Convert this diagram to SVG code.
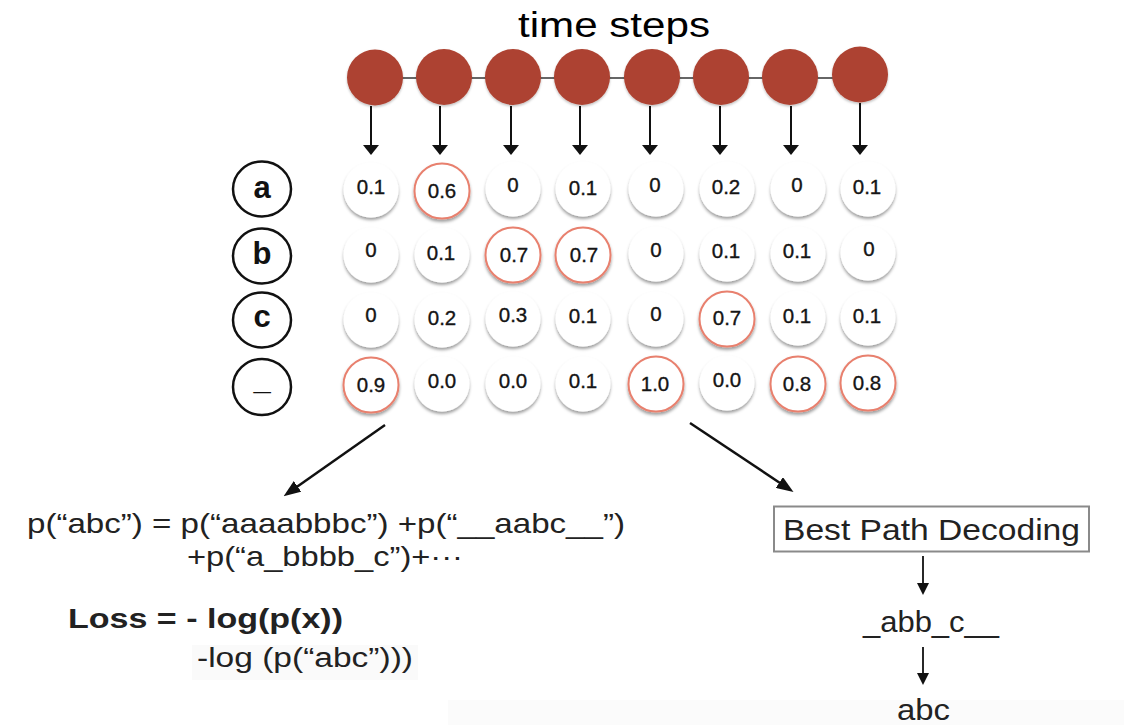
<svg xmlns="http://www.w3.org/2000/svg" width="1124" height="725" viewBox="0 0 1124 725">
  <defs>
    <style>
      .step { fill: #ad4231; }
      .val { fill: #ffffff; filter: url(#sh); }
      .hl { stroke: #e8806e; stroke-width: 2; }
      .vt { font-family: "Liberation Sans", Arial, sans-serif; font-size: 20.5px; fill: #151515; stroke: #151515; stroke-width: 0.35; text-anchor: middle; }
      .lab { fill: #ffffff; stroke: #111111; stroke-width: 2.5; }
      .lt { font-family: "Liberation Sans", Arial, sans-serif; font-size: 31px; font-weight: bold; fill: #111111; text-anchor: middle; }
      .conn { stroke: #111111; fill: none; }
      .f { font-family: "Liberation Sans", Arial, sans-serif; fill: #222222; }
    </style>
    <filter id="sh" x="-30%" y="-30%" width="160%" height="170%">
      <feDropShadow dx="0" dy="2.5" stdDeviation="1.6" flood-color="#000000" flood-opacity="0.38"/>
    </filter>
    <filter id="sh2" x="-30%" y="-30%" width="160%" height="170%">
      <feDropShadow dx="0" dy="1.5" stdDeviation="1.2" flood-color="#000000" flood-opacity="0.25"/>
    </filter>
    <marker id="ahs" markerUnits="userSpaceOnUse" markerWidth="10" markerHeight="16" refX="5" refY="8" orient="auto">
      <path d="M0,0 L10,8 L0,16 z" fill="#111111"/>
    </marker>
    <marker id="ahb" markerUnits="userSpaceOnUse" markerWidth="17" markerHeight="13" refX="8" refY="6.5" orient="auto">
      <path d="M0,0 L17,6.5 L0,13 z" fill="#111111"/>
    </marker>
    <marker id="ahr" markerUnits="userSpaceOnUse" markerWidth="12" markerHeight="12" refX="6" refY="6" orient="auto">
      <path d="M0,0 L12,6 L0,12 z" fill="#111111"/>
    </marker>
  </defs>

  <rect x="0" y="0" width="1124" height="725" fill="#ffffff"/>
  <rect x="448" y="700" width="676" height="25" fill="#fbfbfb"/>

  <text id="title" x="518" y="37" font-family="'Liberation Sans', Arial, sans-serif" font-size="35" fill="#000000" textLength="192" lengthAdjust="spacingAndGlyphs">time steps</text>

  <!-- chain line between time steps -->
  <g id="chain">
    <line x1="375" y1="78" x2="860" y2="78" stroke="#333333" stroke-width="1.5"/>
  </g>

  <g id="steps">
    <circle id="t1" class="step" cx="375" cy="77.5" r="28" filter="url(#sh2)"/>
    <circle id="t2" class="step" cx="444" cy="77" r="28" filter="url(#sh2)"/>
    <circle id="t3" class="step" cx="513" cy="77" r="28" filter="url(#sh2)"/>
    <circle id="t4" class="step" cx="582" cy="77" r="28" filter="url(#sh2)"/>
    <circle id="t5" class="step" cx="652" cy="77" r="28" filter="url(#sh2)"/>
    <circle id="t6" class="step" cx="721" cy="77" r="28" filter="url(#sh2)"/>
    <circle id="t7" class="step" cx="790" cy="77" r="28" filter="url(#sh2)"/>
    <circle id="t8" class="step" cx="860" cy="74.5" r="28" filter="url(#sh2)"/>
  </g>

  <g id="connectors" class="conn">
    <line x1="371" y1="106" x2="371" y2="150" stroke-width="2" marker-end="url(#ahs)"/>
    <line x1="440" y1="106" x2="440" y2="150" stroke-width="2" marker-end="url(#ahs)"/>
    <line x1="511" y1="106" x2="511" y2="150" stroke-width="2" marker-end="url(#ahs)"/>
    <line x1="580" y1="106" x2="580" y2="150" stroke-width="2" marker-end="url(#ahs)"/>
    <line x1="650" y1="106" x2="650" y2="150" stroke-width="2" marker-end="url(#ahs)"/>
    <line x1="720" y1="106" x2="720" y2="150" stroke-width="2" marker-end="url(#ahs)"/>
    <line x1="791" y1="106" x2="791" y2="150" stroke-width="2" marker-end="url(#ahs)"/>
    <line x1="860" y1="103" x2="860" y2="150" stroke-width="2" marker-end="url(#ahs)"/>
    <line x1="385" y1="425" x2="291" y2="491" stroke-width="2.5" marker-end="url(#ahb)"/>
    <line x1="690" y1="423" x2="786" y2="487" stroke-width="2.5" marker-end="url(#ahb)"/>
    <line x1="923" y1="556" x2="923" y2="589" stroke-width="1.8" marker-end="url(#ahr)"/>
    <line x1="923" y1="647" x2="923" y2="679" stroke-width="1.8" marker-end="url(#ahr)"/>
  </g>

  <!-- row labels -->
  <g id="label-a"><ellipse class="lab" cx="262" cy="189" rx="29" ry="27.5"/><text class="lt" x="262" y="198">a</text></g>
  <g id="label-b"><ellipse class="lab" cx="262" cy="256" rx="29" ry="27.5"/><text class="lt" x="262" y="264">b</text></g>
  <g id="label-c"><ellipse class="lab" cx="262" cy="320" rx="29" ry="27.5"/><text class="lt" x="262" y="327">c</text></g>
  <g id="label-blank"><ellipse class="lab" cx="262" cy="387" rx="29" ry="28"/><text class="lt" x="262" y="389" font-size="26">_</text></g>

  <!-- row a -->
  <g id="a1"><circle class="val" cx="371" cy="190" r="27.5"/><text class="vt" x="371" y="194">0.1</text></g>
  <g id="a2"><circle class="val hl" cx="442" cy="191" r="27.5"/><text class="vt" x="442" y="198">0.6</text></g>
  <g id="a3"><circle class="val" cx="513" cy="189" r="27.5"/><text class="vt" x="513" y="192">0</text></g>
  <g id="a4"><circle class="val" cx="583" cy="189" r="27.5"/><text class="vt" x="583" y="195">0.1</text></g>
  <g id="a5"><circle class="val" cx="656" cy="189" r="27.5"/><text class="vt" x="655" y="192">0</text></g>
  <g id="a6"><circle class="val" cx="727" cy="189" r="27.5"/><text class="vt" x="726" y="194">0.2</text></g>
  <g id="a7"><circle class="val" cx="798" cy="189" r="27.5"/><text class="vt" x="797" y="192">0</text></g>
  <g id="a8"><circle class="val" cx="868" cy="189" r="27.5"/><text class="vt" x="867" y="194">0.1</text></g>

  <!-- row b -->
  <g id="b1"><circle class="val" cx="371" cy="255" r="27.5"/><text class="vt" x="371" y="257">0</text></g>
  <g id="b2"><circle class="val" cx="442" cy="255" r="27.5"/><text class="vt" x="441" y="260">0.1</text></g>
  <g id="b3"><circle class="val hl" cx="513" cy="255" r="27.5"/><text class="vt" x="514" y="262">0.7</text></g>
  <g id="b4"><circle class="val hl" cx="583" cy="255" r="27.5"/><text class="vt" x="584" y="262">0.7</text></g>
  <g id="b5"><circle class="val" cx="656" cy="254" r="27.5"/><text class="vt" x="656" y="257">0</text></g>
  <g id="b6"><circle class="val" cx="727" cy="254" r="27.5"/><text class="vt" x="726" y="258">0.1</text></g>
  <g id="b7"><circle class="val" cx="798" cy="254" r="27.5"/><text class="vt" x="797" y="258">0.1</text></g>
  <g id="b8"><circle class="val" cx="868" cy="253" r="27.5"/><text class="vt" x="869" y="256">0</text></g>

  <!-- row c -->
  <g id="c1"><circle class="val" cx="371" cy="320" r="27.5"/><text class="vt" x="371" y="322">0</text></g>
  <g id="c2"><circle class="val" cx="442" cy="320" r="27.5"/><text class="vt" x="442" y="325">0.2</text></g>
  <g id="c3"><circle class="val" cx="513" cy="319" r="27.5"/><text class="vt" x="513" y="322">0.3</text></g>
  <g id="c4"><circle class="val" cx="583" cy="319" r="27.5"/><text class="vt" x="583" y="323">0.1</text></g>
  <g id="c5"><circle class="val" cx="656" cy="319" r="27.5"/><text class="vt" x="656" y="321">0</text></g>
  <g id="c6"><circle class="val hl" cx="727" cy="319" r="27.5"/><text class="vt" x="727" y="325">0.7</text></g>
  <g id="c7"><circle class="val" cx="798" cy="318" r="27.5"/><text class="vt" x="797" y="323">0.1</text></g>
  <g id="c8"><circle class="val" cx="868" cy="318" r="27.5"/><text class="vt" x="867" y="323">0.1</text></g>

  <!-- row blank -->
  <g id="d1"><circle class="val hl" cx="371" cy="385" r="27.5"/><text class="vt" x="371" y="392">0.9</text></g>
  <g id="d2"><circle class="val" cx="442" cy="384" r="27.5"/><text class="vt" x="442" y="388">0.0</text></g>
  <g id="d3"><circle class="val" cx="513" cy="384" r="27.5"/><text class="vt" x="513" y="388">0.0</text></g>
  <g id="d4"><circle class="val" cx="583" cy="384" r="27.5"/><text class="vt" x="583" y="388">0.1</text></g>
  <g id="d5"><circle class="val hl" cx="656" cy="384" r="27.5"/><text class="vt" x="655" y="391">1.0</text></g>
  <g id="d6"><circle class="val" cx="727" cy="383" r="27.5"/><text class="vt" x="727" y="387">0.0</text></g>
  <g id="d7"><circle class="val hl" cx="798" cy="384" r="27.5"/><text class="vt" x="797" y="391">0.8</text></g>
  <g id="d8"><circle class="val hl" cx="868" cy="383" r="27.5"/><text class="vt" x="867" y="390">0.8</text></g>

  <!-- left: CTC loss -->
  <g id="loss">
    <text class="f" x="27" y="533" font-size="28" textLength="598" lengthAdjust="spacingAndGlyphs">p(“abc”) = p(“aaaabbbc”) +p(“__aabc__”)</text>
    <text class="f" x="187" y="566" font-size="28" textLength="276" lengthAdjust="spacingAndGlyphs">+p(“a_bbbb_c”)+···</text>
    <text class="f" x="68" y="628" font-size="27" font-weight="bold" fill="#111111" textLength="275" lengthAdjust="spacingAndGlyphs">Loss = - log(p(x))</text>
    <rect x="192" y="645" width="226" height="35" fill="#fafafa"/>
    <text class="f" x="197" y="667" font-size="27" textLength="216" lengthAdjust="spacingAndGlyphs">-log (p(“abc”)))</text>
  </g>

  <!-- right: decoding -->
  <g id="decoding">
    <rect x="774" y="506.5" width="315" height="45" fill="#ffffff" stroke="#8a8a8a" stroke-width="2"/>
    <text class="f" x="783" y="540" font-size="29" textLength="297" lengthAdjust="spacingAndGlyphs">Best Path Decoding</text>
  </g>
  <g id="path">
    <text class="f" x="863" y="632" font-size="30" textLength="136" lengthAdjust="spacingAndGlyphs">_abb_c__</text>
  </g>
  <g id="result">
    <text class="f" x="897" y="720" font-size="30" textLength="53" lengthAdjust="spacingAndGlyphs">abc</text>
  </g>
</svg>
